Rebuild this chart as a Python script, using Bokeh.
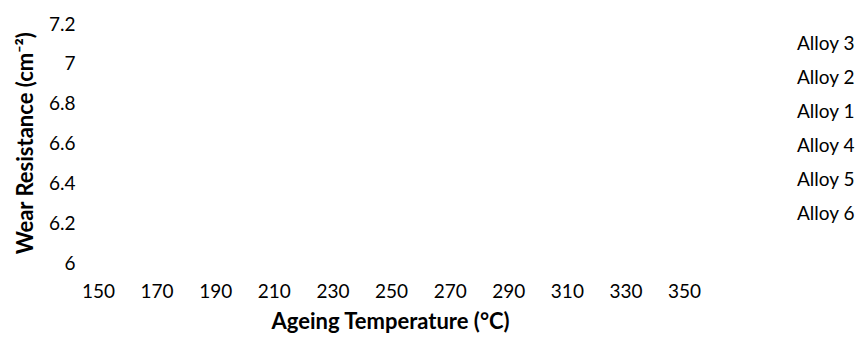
from bokeh.plotting import figure
from bokeh.models import FixedTicker, Range1d, Legend, LegendItem, Title
from bokeh.embed import file_html
from bokeh.resources import INLINE

# ---- data (the reference chart shows no visible data marks) ----
temperatures = [150, 170, 190, 210, 230, 250, 270, 290, 310, 330, 350]
series_names = ["Alloy 3", "Alloy 2", "Alloy 1", "Alloy 4", "Alloy 5", "Alloy 6"]
series_values = {name: [] for name in series_names}  # no values drawn in the reference
y_ticks = [6.0, 6.2, 6.4, 6.6, 6.8, 7.0, 7.2]
y_tick_labels = ["6", "6.2", "6.4", "6.6", "6.8", "7", "7.2"]
x_title = "Ageing Temperature (°C)"
y_title = "Wear Resistance (cm⁻²)"

FONT = "Lato"

p = figure(width=857, height=340, output_backend="svg", toolbar_location=None,
           x_range=Range1d(150, 409), y_range=Range1d(6.0, 7.2),
           min_border_left=98, min_border_right=0, min_border_top=23, min_border_bottom=78)

p.background_fill_color = "white"
p.border_fill_color = "white"
p.outline_line_color = None
p.grid.visible = False

items = []
for name in series_names:
    r = p.line(x=temperatures[:len(series_values[name])], y=series_values[name],
               line_alpha=0, line_width=2)
    items.append(LegendItem(label=name, renderers=[r]))

legend = Legend(items=items, location=(674, 38), border_line_color=None,
                background_fill_alpha=0, padding=0, margin=0,
                glyph_width=20, glyph_height=22, label_height=22, label_standoff=5,
                spacing=11, label_text_font=FONT, label_text_font_size="19px",
                label_text_color="#000000")
p.add_layout(legend, "center")

p.xaxis.ticker = FixedTicker(ticks=temperatures)
p.yaxis.ticker = FixedTicker(ticks=y_ticks)
p.yaxis.major_label_overrides = {t: l for t, l in zip(y_ticks, y_tick_labels)}

for ax in (p.xaxis, p.yaxis):
    ax.axis_line_color = None
    ax.major_tick_line_color = None
    ax.minor_tick_line_color = None
    ax.major_tick_out = 0
    ax.major_tick_in = 0
    ax.major_label_text_font = FONT
    ax.major_label_text_font_size = "19px"
    ax.major_label_text_color = "#000000"
    ax.axis_label_text_font = FONT
    ax.axis_label_text_font_style = "bold"
    ax.axis_label_text_font_size = "22px"
    ax.axis_label_text_color = "#000000"

p.yaxis.axis_label = y_title
p.xaxis.major_label_standoff = 21
p.yaxis.major_label_standoff = 23
p.yaxis.axis_label_standoff = 8

xt = Title(text=x_title, align="left", offset=173, standoff=8,
           text_font=FONT, text_font_style="bold", text_font_size="22px",
           text_color="#000000")
p.add_layout(xt, "below")

open("out.html", "w").write(file_html(p, INLINE))
